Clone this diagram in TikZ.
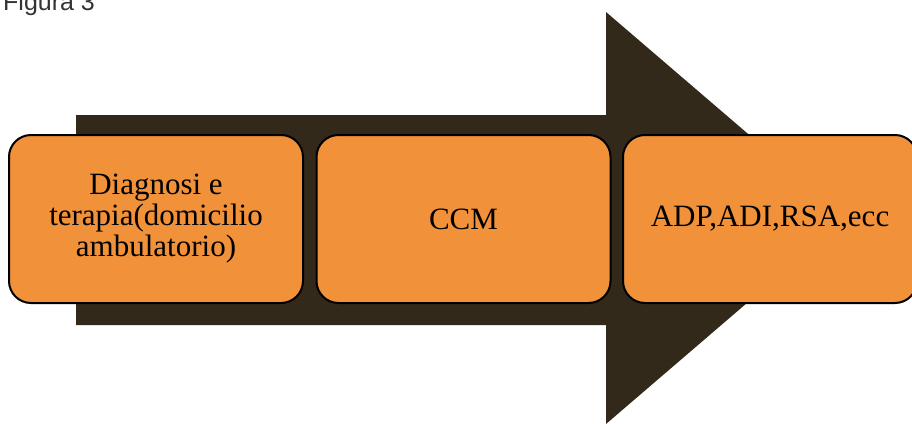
\documentclass[tikz,border=0pt]{standalone}
\usepackage{fontspec}
\setmainfont{Liberation Serif}
\newfontfamily\capfont{Liberation Sans}
\definecolor{arrowbrown}{HTML}{33291A}
\definecolor{boxorange}{HTML}{F1913A}
\definecolor{capgray}{HTML}{333333}
\begin{document}
\begin{tikzpicture}[x=1pt,y=-1pt,
  stagebox/.style={draw=black, line width=2pt, fill=boxorange, rounded corners=22pt,
    minimum width=294pt, minimum height=168pt, align=center, inner sep=4pt,
    font=\fontsize{31}{31}\selectfont, text=black}]
\useasboundingbox (0,0) rectangle (912,423);
\clip (0,0) rectangle (912,423);
\fill[arrowbrown] (76,115) -- (606,115) -- (606,12) -- (846,218) -- (606,424) -- (606,325) -- (76,325) -- cycle;
\node[stagebox] (b1) at (156,219) {Diagnosi e\\terapia(domicilio\\ambulatorio)};
\node[stagebox] (b2) at (463.5,219) {CCM};
\node[stagebox] (b3) at (770,219) {ADP,ADI,RSA,ecc};
\node[anchor=base west, inner sep=0pt, font=\capfont\fontsize{25}{28}\selectfont, text=capgray] (cap) at (3,10) {Figura 3};
\end{tikzpicture}
\end{document}
